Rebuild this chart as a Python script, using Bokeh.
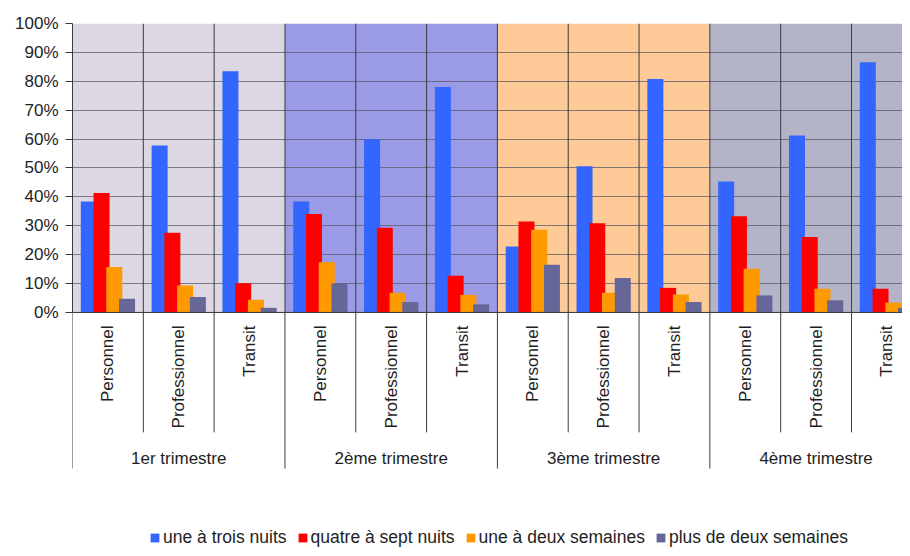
import math
from bokeh.plotting import figure
from bokeh.models import (Range1d, LinearAxis, FixedTicker, PrintfTickFormatter, Grid,
                          ColumnDataSource, Legend, LegendItem)
from bokeh.core.properties import value
from bokeh.embed import file_html
from bokeh.resources import INLINE

# ---------------- data ----------------
quarters = ["1er trimestre", "2ème trimestre", "3ème trimestre", "4ème trimestre"]
motifs = ["Personnel", "Professionnel", "Transit"]
series_names = ["une à trois nuits", "quatre à sept nuits", "une à deux semaines", "plus de deux semaines"]

une_a_trois_nuits = [38.4, 57.8, 83.5, 38.4, 59.9, 78.0, 22.8, 50.6, 80.8, 45.3, 61.2, 86.6]
quatre_a_sept_nuits = [41.3, 27.6, 10.1, 34.1, 29.3, 12.7, 31.5, 30.9, 8.5, 33.3, 26.1, 8.2]
une_a_deux_semaines = [15.7, 9.3, 4.4, 17.4, 6.8, 6.1, 28.6, 6.8, 6.2, 15.1, 8.2, 3.4]
plus_de_deux_semaines = [4.7, 5.3, 1.6, 10.0, 3.6, 2.8, 16.5, 11.9, 3.6, 5.9, 4.2, 1.6]

y_ticks = [0, 10, 20, 30, 40, 50, 60, 70, 80, 90, 100]

# ---------------- style ----------------
series_colors = ["#3366ff", "#ff0000", "#ff9900", "#666699"]
bg_colors = ["#dcd7e3", "#9a9ae6", "#fdca98", "#b4b4c8"]
FONT = "Liberation Sans"
TXT = "#1e1e1e"
LINE = "#3c3c3c"

n_cat = len(quarters) * len(motifs)
x_end = 11.72
y_bottom = -81.7

p = figure(width=902, height=548, output_backend="svg", toolbar_location=None,
           x_axis_type=None, y_axis_type=None,
           x_range=Range1d(0, x_end), y_range=Range1d(y_bottom, 100),
           min_border_left=72, min_border_right=0, min_border_top=23, min_border_bottom=0,
           background_fill_color="white", border_fill_color="white", outline_line_color=None)

# quarter backgrounds
nq = len(motifs)
bg = p.quad(left=[i * nq for i in range(len(quarters))],
            right=[(i + 1) * nq for i in range(len(quarters))],
            bottom=[0] * len(quarters), top=[100] * len(quarters),
            fill_color=bg_colors, line_color=None)
bg.level = "image"

# horizontal grid
grid = Grid(dimension=1, ticker=FixedTicker(ticks=y_ticks), bounds=(0, 100),
            grid_line_color="#5a5a64", grid_line_alpha=0.75, grid_line_width=1)
p.add_layout(grid)

# y axis
yaxis = LinearAxis(ticker=FixedTicker(ticks=y_ticks), formatter=PrintfTickFormatter(format="%d%%"),
                   bounds=(0, 100), axis_line_color=LINE, major_tick_line_color=LINE,
                   major_tick_out=7, major_tick_in=0, minor_tick_line_color=None,
                   major_label_standoff=7, major_label_text_font=FONT,
                   major_label_text_font_size="17px", major_label_text_color=TXT)
p.add_layout(yaxis, "left")

# bars
bar_w = 0.226
step = 0.18
offsets = [-1.5 * step, -0.5 * step, 0.5 * step, 1.5 * step]
all_series = [une_a_trois_nuits, quatre_a_sept_nuits, une_a_deux_semaines, plus_de_deux_semaines]
items = []
for name, vals, col, off in zip(series_names, all_series, series_colors, offsets):
    src = ColumnDataSource(dict(x=[i + 0.5 + off for i in range(n_cat)], top=vals))
    r = p.vbar(x="x", top="top", width=bar_w, bottom=0, source=src, fill_color=col, line_color=None)
    items.append(LegendItem(label=name, renderers=[r]))

# x axis baseline
p.segment(x0=[0], y0=[0], x1=[n_cat], y1=[0], line_color=LINE, line_width=1)

# vertical separators
sub_x = [i for i in range(n_cat + 1) if i % nq != 0]
q_x = [i for i in range(n_cat + 1) if i % nq == 0]
p.segment(x0=sub_x, y0=[100] * len(sub_x), x1=sub_x, y1=[-41.5] * len(sub_x),
          line_color=LINE, line_width=1)
p.segment(x0=q_x, y0=[100] * len(q_x), x1=q_x, y1=[-54] * len(q_x),
          line_color=LINE, line_width=1)

# category labels (rotated)
cat_labels = [m for q in quarters for m in motifs]
p.text(x=[i + 0.5 for i in range(n_cat)], y=[-4.5] * n_cat, text=cat_labels,
       angle=math.pi / 2, text_align="right", text_baseline="middle",
       text_font=value(FONT), text_font_size="17px", text_color=TXT)

# quarter labels
p.text(x=[i * nq + nq / 2 for i in range(len(quarters))], y=[-50.5] * len(quarters), text=quarters,
       text_align="center", text_baseline="middle",
       text_font=value(FONT), text_font_size="17px", text_color=TXT)

legend = Legend(items=items, orientation="horizontal", location=(77, 0),
                background_fill_alpha=0, border_line_color=None,
                label_text_font=FONT, label_text_font_size="17.5px", label_text_color=TXT,
                glyph_width=11, glyph_height=11, spacing=10, label_standoff=3,
                padding=0, margin=0)
p.add_layout(legend)

open("out.html", "w").write(file_html(p, INLINE))
